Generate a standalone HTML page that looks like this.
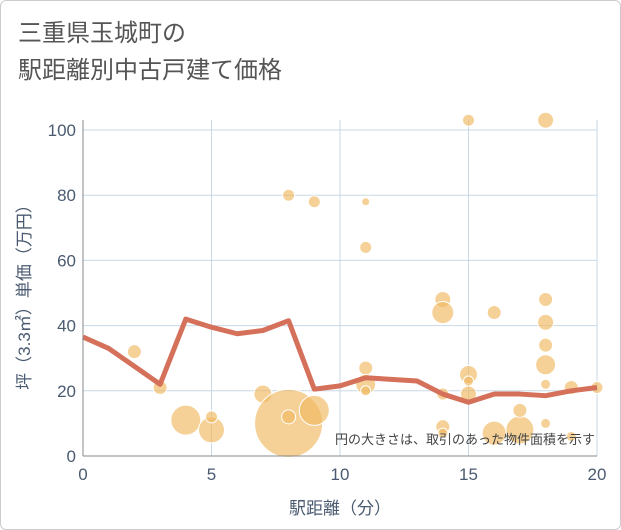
<!DOCTYPE html>
<html><head><meta charset="utf-8"><style>
body{margin:0;background:#fff;font-family:"Liberation Sans","Noto Sans CJK JP",sans-serif}
#wrap{position:relative;width:619px;height:528px;border:1px solid #ccc;border-radius:6px;overflow:hidden;background:#fff}
</style></head><body>
<div id="wrap">
<svg id="chart" width="621" height="530" style="position:absolute;left:-1px;top:-1px">
<text x="18" y="41" font-size="24" fill="#555">三重県玉城町の</text>
<text x="18" y="78" font-size="24" fill="#555">駅距離別中古戸建て価格</text>
<g id="grid"></g><g id="bubbles"></g><g id="line"></g><g id="axes"></g>
<text x="595" y="444" font-size="13" fill="#444" text-anchor="end">円の大きさは、取引のあった物件面積を示す</text>
<text x="340" y="514" font-size="17" fill="#4a5a70" text-anchor="middle">駅距離（分）</text>
<text transform="translate(30,293) rotate(-90)" font-size="17" fill="#4a5a70" text-anchor="middle">坪（3.3㎡）単価（万円）</text>
</svg>
</div>
<script>
const xTicks=[0,5,10,15,20];
const yTicks=[0,20,40,60,80,100];
const lineX=[0,1,2,3,4,5,6,7,8,9,10,11,12,13,14,15,16,17,18,19,20];
const lineY=[36.5,33,27.5,22,42,39.5,37.5,38.5,41.5,20.5,21.5,24,23.5,23,19,16.5,19,19,18.5,20,21];
const bubX=[2,3,4,5,5,7,8,8,8,9,9,11,11,11,11,11,14,14,14,14,14,15,15,15,15,16,16,17,17,18,18,18,18,18,18,18,19,19,20];
const bubY=[32,21,11,8,12,19,10,12,80,14,78,78,64,27,22,20,48,44,19,9,7,103,25,23,19,44,7,8,14,103,48,41,34,28,22,10,21,6,21];
const bubR=[7,7,15,13,6,9,34,7,6,15,6,4,6,7,10,5,8,11,6,7,5,6,9,5,8,7,12,14,7,8,7,8,7,10,5,5,7,5,6];
const NS="http://www.w3.org/2000/svg";
const X0=83,X1=597,Y0=456,Y1=130;
const sx=v=>X0+(X1-X0)*v/20, sy=v=>Y0-(Y0-Y1)*v/100;
function mk(t,a,p){const e=document.createElementNS(NS,t);for(const k in a)e.setAttribute(k,a[k]);p.appendChild(e);return e;}
const g=document.getElementById('grid'),ax=document.getElementById('axes');
xTicks.forEach(t=>{
 const l=mk('line',{x1:sx(t),x2:sx(t),y1:Y1-10,y2:Y0,stroke:'#c8d8e6'},g);
 
 
 const tx=mk('text',{x:sx(t),y:Y0+24,'font-size':17,fill:'#4a5a70','text-anchor':'middle'},ax);tx.textContent=t;
 
 
});
yTicks.forEach(t=>{
 const l=mk('line',{x1:X0,x2:X1,y1:sy(t),y2:sy(t),stroke:'#c8d8e6'},g);
 
 
 const tx=mk('text',{x:X0-7,y:sy(t)+6,'font-size':17,fill:'#4a5a70','text-anchor':'end'},ax);tx.textContent=t;
 
 
});
const xa=mk('line',{x1:X0,x2:X1,y1:Y0,y2:Y0,stroke:'#888'},ax);


const ya=mk('line',{x1:X0,x2:X0,y1:Y1-10,y2:Y0,stroke:'#888'},ax);


const b=document.getElementById('bubbles');
bubX.forEach((v,i)=>{
 const c=mk('circle',{cx:sx(v),cy:sy(bubY[i]),r:bubR[i],fill:'rgba(240,185,95,0.65)',stroke:'#fff','stroke-width':1},b);
 
 
});
const pl=mk('polyline',{points:lineX.map((v,i)=>sx(v)+','+sy(lineY[i])).join(' '),fill:'none',stroke:'#d5705a','stroke-width':5,'stroke-linejoin':'round'},document.getElementById('line'));


</script>
</body></html>
